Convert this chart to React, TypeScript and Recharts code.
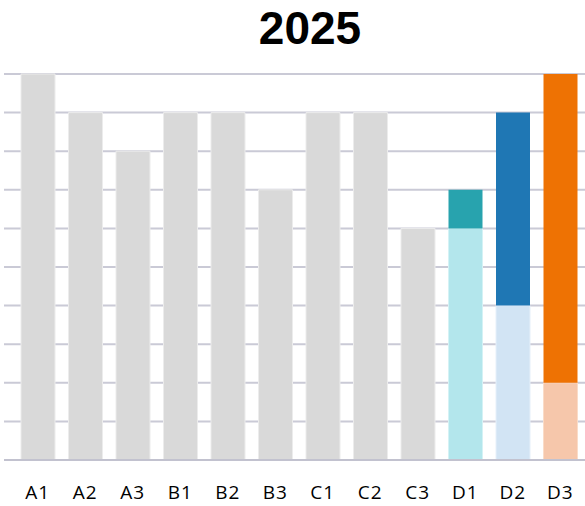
import React from 'react';
import { BarChart, Bar, XAxis, YAxis, CartesianGrid, Cell } from 'recharts';

const categories = ['A1', 'A2', 'A3', 'B1', 'B2', 'B3', 'C1', 'C2', 'C3', 'D1', 'D2', 'D3'];
const baseValues = [10, 9, 8, 9, 9, 7, 9, 9, 6, 6, 4, 2];
const topValues = [0, 0, 0, 0, 0, 0, 0, 0, 0, 1, 5, 8];
const yTicks = [0, 1, 2, 3, 4, 5, 6, 7, 8, 9, 10];

const baseColors = ['#d9d9d9', '#d9d9d9', '#d9d9d9', '#d9d9d9', '#d9d9d9', '#d9d9d9', '#d9d9d9', '#d9d9d9', '#d9d9d9', '#b3e6ec', '#d2e4f4', '#f6c7ab'];
const baseStrokes = ['#ececec', '#ececec', '#ececec', '#ececec', '#ececec', '#ececec', '#ececec', '#ececec', '#ececec', '#d4f2f5', '#e6f0fa', '#fadcc8'];
const topColors = ['#d9d9d9', '#d9d9d9', '#d9d9d9', '#d9d9d9', '#d9d9d9', '#d9d9d9', '#d9d9d9', '#d9d9d9', '#d9d9d9', '#28a3ae', '#1f77b4', '#ee7203'];

const data = categories.map((name, i) => ({ name, base: baseValues[i], top: topValues[i] }));

const font = '"Open Sans", sans-serif';

export default function App() {
  return (
    <div style={{ position: 'fixed', left: 0, top: 0, width: 585, height: 506, background: '#fff' }}>
      <div
        style={{
          position: 'absolute', left: 0, top: 1, width: 620, textAlign: 'center',
          fontFamily: '"Liberation Sans", Arial, sans-serif', fontWeight: 700, fontSize: 46,
          lineHeight: 'normal', color: '#000',
        }}
      >
        2025
      </div>
      <BarChart
        width={585}
        height={506}
        data={data}
        margin={{ top: 74, right: 0, bottom: 0, left: 4 }}
        barCategoryGap={0}
      >
        <CartesianGrid vertical={false} stroke="#cacad6" strokeWidth={2} />
        <YAxis hide domain={[0, 10]} ticks={yTicks} />
        <XAxis
          dataKey="name"
          axisLine={{ stroke: '#c2c2cf', strokeWidth: 2 }}
          tickLine={false}
          tickSize={0}
          tickMargin={26}
          height={46}
          padding={{ left: 10, right: 1 }}
          interval={0}
          tick={{ fill: '#000', fontSize: 19, fontFamily: font, letterSpacing: 1 }}
        />
        <Bar dataKey="base" stackId="s" barSize={34} isAnimationActive={false} strokeWidth={1}>
          {data.map((d, i) => (
            <Cell key={d.name} fill={baseColors[i]} stroke={baseStrokes[i]} />
          ))}
        </Bar>
        <Bar dataKey="top" stackId="s" barSize={34} isAnimationActive={false}>
          {data.map((d, i) => (
            <Cell key={d.name} fill={topColors[i]} />
          ))}
        </Bar>
      </BarChart>
    </div>
  );
}
